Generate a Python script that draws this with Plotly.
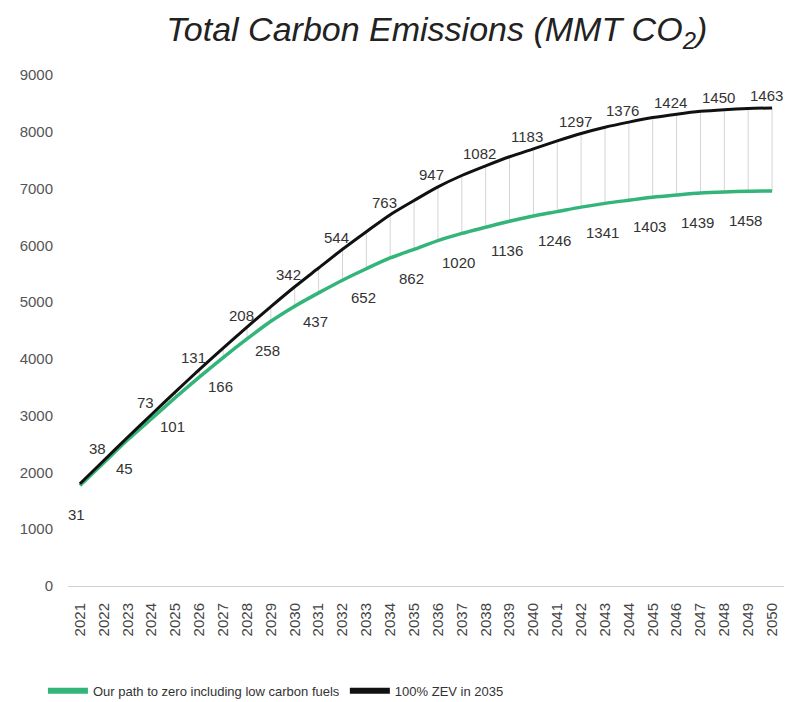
import plotly.graph_objects as go

# Years on the horizontal axis
years = list(range(2021, 2051))

# Cumulative emissions for the 100% ZEV in 2035 scenario (MMT CO2)
zev_2035 = [1800, 2210, 2620, 3020, 3420, 3810, 4190, 4560, 4920, 5270,
            5600, 5930, 6240, 6540, 6790, 7030, 7230, 7400, 7560, 7700,
            7840, 7970, 8080, 8170, 8250, 8310, 8360, 8390, 8410, 8420]

# Cumulative savings of the low-carbon-fuels path relative to ZEV 2035
gap = [31, 38, 45, 73, 101, 131, 166, 208, 258, 342,
       437, 544, 652, 763, 862, 947, 1020, 1082, 1136, 1183,
       1246, 1297, 1341, 1376, 1403, 1424, 1439, 1450, 1458, 1463]

# Our path = ZEV 2035 minus the savings
our_path = [z - g for z, g in zip(zev_2035, gap)]

GREEN = "#33b57a"
BLACK = "#111111"
FONT = "Liberation Sans, Arial, sans-serif"

fig = go.Figure()

# Thin vertical connectors showing the gap each year
vx, vy = [], []
for x, lo, hi in zip(years, our_path, zev_2035):
    vx += [x, x, None]
    vy += [lo, hi, None]
fig.add_trace(go.Scatter(x=vx, y=vy, mode="lines",
                         line=dict(color="#d4d4d4", width=1),
                         showlegend=False, hoverinfo="skip"))

fig.add_trace(go.Scatter(x=years, y=our_path, mode="lines",
                         line=dict(color=GREEN, width=3.5, shape="spline", smoothing=0.8),
                         showlegend=False))
fig.add_trace(go.Scatter(x=years, y=zev_2035, mode="lines",
                         line=dict(color=BLACK, width=3, shape="spline", smoothing=0.8),
                         showlegend=False))

# Legend entries with thicker swatches
fig.add_trace(go.Scatter(x=[None], y=[None], mode="lines",
                         line=dict(color=GREEN, width=6),
                         name="Our path to zero including low carbon fuels"))
fig.add_trace(go.Scatter(x=[None], y=[None], mode="lines",
                         line=dict(color=BLACK, width=6),
                         name="100% ZEV in 2035"))

# Gap labels alternate: below the green line, above the black line
annotations = []
for i, (x, g) in enumerate(zip(years, gap)):
    if i % 2 == 0:
        annotations.append(dict(x=x, y=our_path[i], text=str(g), showarrow=False,
                                xshift=-3, yshift=-29,
                                font=dict(family=FONT, size=15, color="#333333")))
    else:
        annotations.append(dict(x=x, y=zev_2035[i], text=str(g), showarrow=False,
                                xshift=-6, yshift=12,
                                font=dict(family=FONT, size=15, color="#333333")))

fig.update_layout(
    width=794, height=702,
    margin=dict(l=68, r=10, t=75, b=116, autoexpand=False),
    paper_bgcolor="white", plot_bgcolor="white",
    font=dict(family=FONT, color="#333333"),
    title=dict(text="<i>Total Carbon Emissions (MMT CO<sub>2</sub>)</i>",
               x=0.55, xanchor="center", y=0.958, yanchor="middle",
               font=dict(family=FONT, size=34, color="#222222")),
    annotations=annotations,
    legend=dict(orientation="h", x=-0.035, xanchor="left", y=-0.205, yanchor="middle",
                font=dict(family=FONT, size=13, color="#333333"),
                itemwidth=40, bgcolor="rgba(0,0,0,0)"),
)

fig.update_xaxes(
    range=[2020.5, 2050.5], tickmode="array", tickvals=years,
    ticktext=[str(y) for y in years], tickangle=-90,
    tickfont=dict(family=FONT, size=15, color="#444444"),
    showgrid=False, zeroline=False, showline=True, linecolor="#d0d0d0", linewidth=1,
    ticks="", ticklabelstandoff=10, automargin=False,
)
fig.update_yaxes(
    range=[0, 9000], tickmode="array", tickvals=list(range(0, 9001, 1000)),
    tickfont=dict(family=FONT, size=15, color="#555555"),
    showgrid=False, zeroline=False, showline=False, ticks="",
    ticklabelstandoff=14, automargin=False,
)

fig.write_html("out.html")
